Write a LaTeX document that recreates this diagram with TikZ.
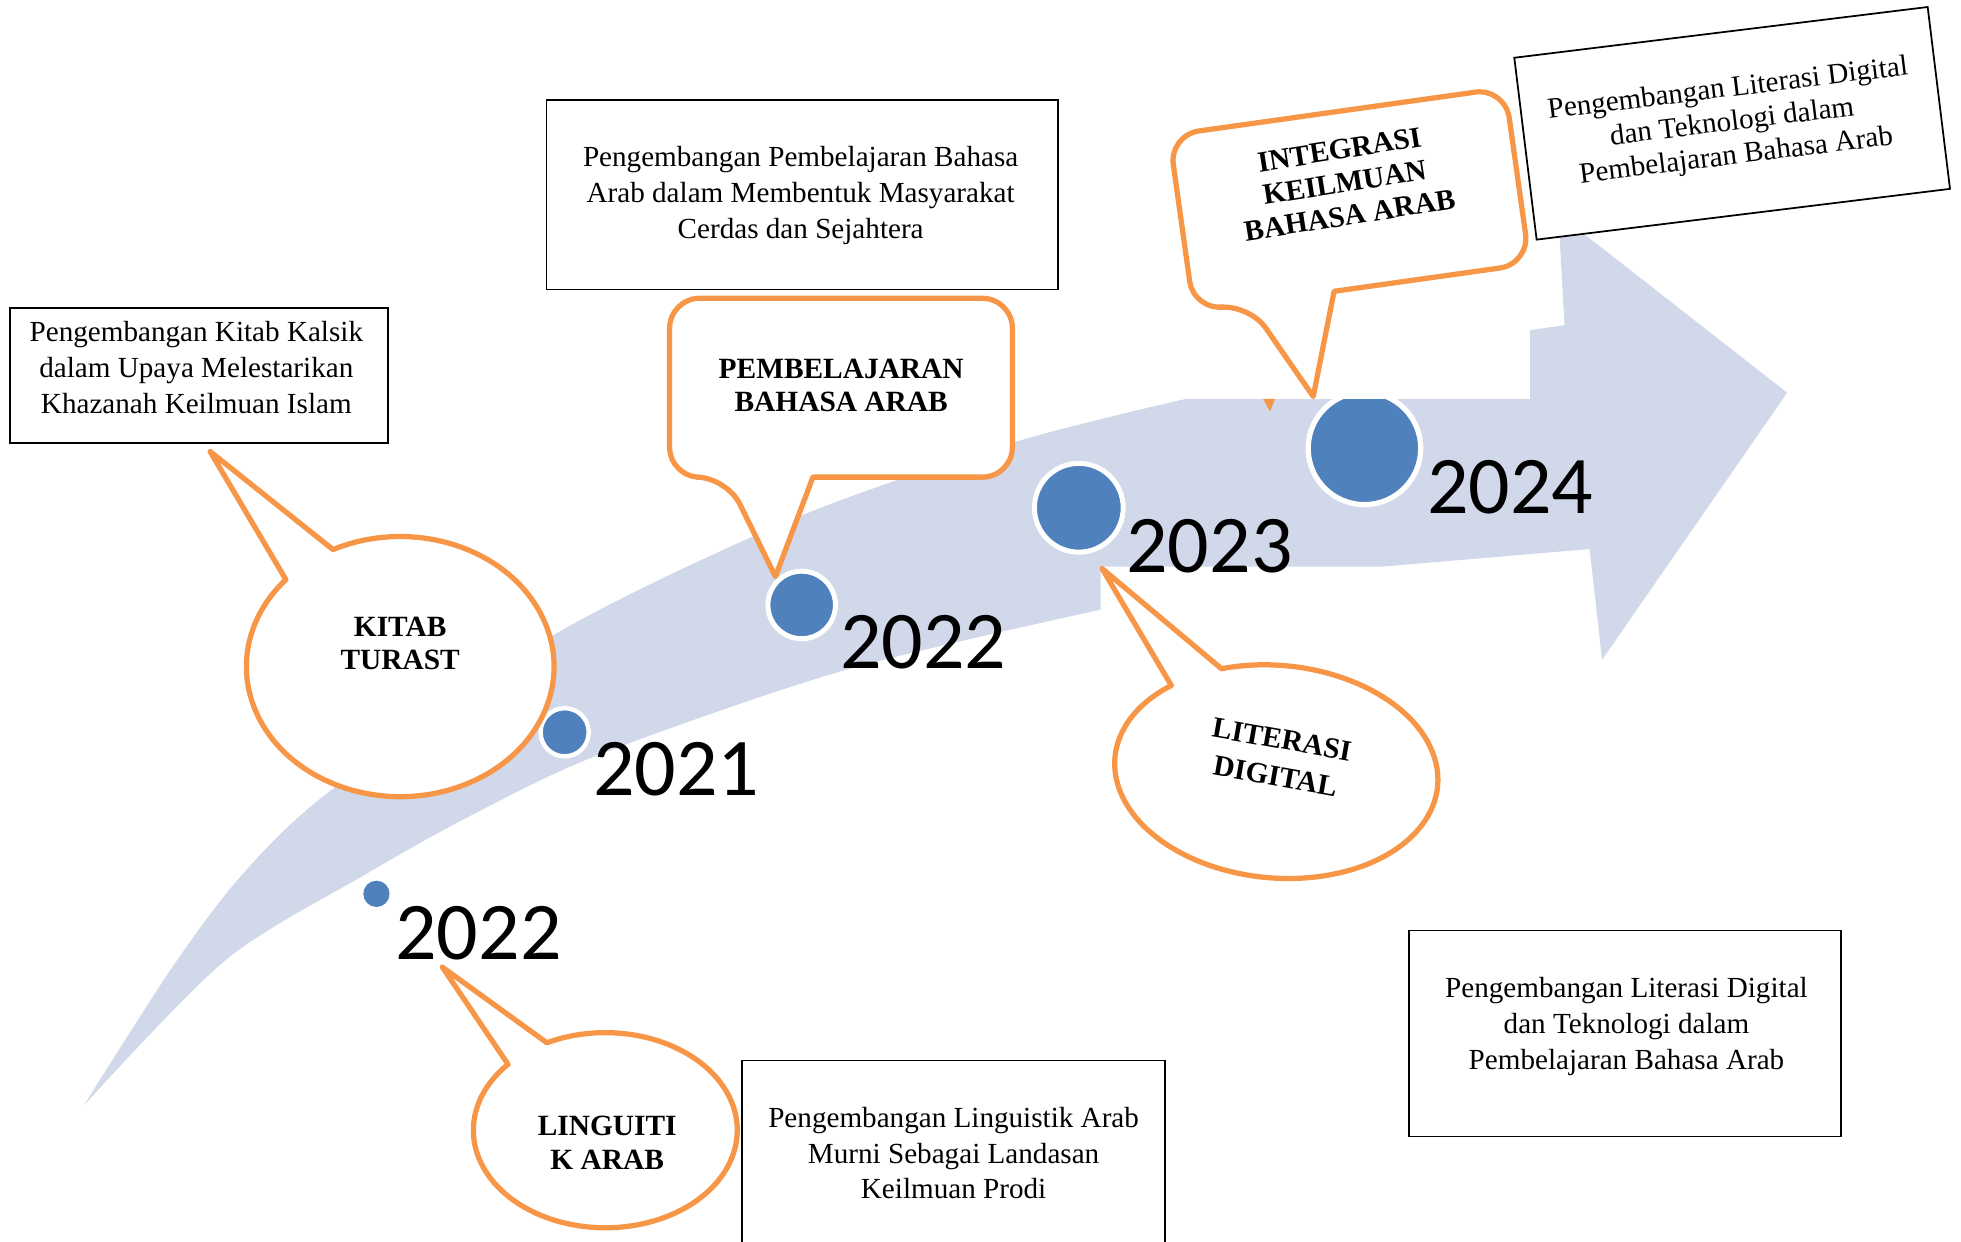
\documentclass[tikz,border=0pt]{standalone}
\usepackage{fontspec}
\setmainfont{Liberation Serif}
\newfontfamily\YearFont{Carlito}
\usepackage{tikz}
\usepackage{xcolor}
\definecolor{ColA}{RGB}{247,150,70}
\definecolor{ColB}{RGB}{79,129,189}
\definecolor{ColC}{RGB}{208,216,233}
\tikzstyle{Bubble}=[draw=ColA,fill=white,line width=4.2pt,line join=round]
\tikzstyle{BubbleText}=[align=center,inner sep=0pt,font=\fontsize{23.5}{26.5}\selectfont\bfseries]
\tikzstyle{InfoBox}=[draw=black,fill=white,line width=1.4pt,inner sep=0pt]
\tikzstyle{InfoText}=[align=center,inner sep=0pt,font=\fontsize{23.3}{28.7}\selectfont]
\tikzstyle{YearDot}=[circle,draw=white,fill=ColB,line width=4pt,inner sep=0pt]
\tikzstyle{YearText}=[anchor=base west,inner sep=0pt,font=\YearFont\fontsize{65.5}{65.5}\selectfont]

\begin{document}
\begin{tikzpicture}[x=1pt,y=-1pt]
\useasboundingbox (0,0) rectangle (1568,993);
\clip (0,0) rectangle (1568,993);
\fill[ColC] plot[smooth] coordinates {(67,884) (180,768) (292.5,699) (376.7,652) (480,603) (675,536) (880,487.5)}
  -- (880,453) -- (1106,453) -- (1271,439) -- (1281,527.5) -- (1429,314) -- (1246,171) -- (1251,260)
  -- (1223.5,264) -- (1223.5,319)
  -- plot[smooth] coordinates {(948,319) (813,353) (639,413) (444,507) (264.5,632) (194,699) (138,773) (67,884)} -- cycle;
\node[YearDot,minimum size=38.5,line width=3.5pt](d1)at(451.5,585.5){};
\node[YearDot,minimum size=54](d2)at(641,483.7){};
\node[YearDot,minimum size=71](d3)at(862.6,406){};
\node[YearDot,minimum size=90,line width=4.2pt](d4)at(1091,358.5){};
\node[YearDot,minimum size=21,draw=none](d0)at(301,714.7){};
\fill[white] (948,240) rectangle (1223.5,319);
\fill[ColA] (1010,319) -- (1019.5,319) -- (1015.5,329) -- cycle;
\node[YearText](y1)at(474,636){2021};
\node[YearText](y2)at(671.5,534.7){2022};
\node[YearText](y3)at(900.5,458){2023};
\node[YearText](y4)at(1141,410.7){2024};
\node[YearText](y0)at(316,767.5){2022};
\node[InfoBox,minimum width=302,minimum height=108](b1)at(159,300){};
\node[InfoText](t1)at(157,294){Pengembangan Kitab Kalsik\\dalam Upaya Melestarikan\\Khazanah Keilmuan Islam};
\node[InfoBox,minimum width=409,minimum height=151.5](b2)at(641.5,155.8){};
\node[InfoText](t2)at(640.2,156.5){Pengembangan Pembelajaran Bahasa\\Arab dalam Membentuk Masyarakat\\Cerdas dan Sejahtera};
\node[InfoBox,minimum width=338.4,minimum height=162](b3)at(762.2,929){};
\node[InfoText](t3)at(762.5,922){Pengembangan Linguistik Arab\\Murni Sebagai Landasan\\Keilmuan Prodi};
\node[InfoBox,minimum width=345.3,minimum height=164.8](b4)at(1299.4,826.4){};
\node[InfoText](t4)at(1300.5,821){Pengembangan Literasi Digital\\dan Teknologi dalam\\Pembelajaran Bahasa Arab};
\node[InfoBox,InfoText,minimum width=333,minimum height=146.5,rotate=7,font=\fontsize{23.3}{27}\selectfont](b5)at(1385,98.6){Pengembangan Literasi Digital\\dan Teknologi dalam\\Pembelajaran Bahasa Arab};
\draw[Bubble] (320,533) ++(-115.9:123 and 104) arc[start angle=-115.9,end angle=222,x radius=123,y radius=104] -- (168,361) -- cycle;
\draw[Bubble] (484,903.7) ++(-116.3:105.5 and 78) arc[start angle=-116.3,end angle=222.5,x radius=105.5,y radius=78] -- (353.7,773.3) -- cycle;
\begin{scope}[shift={(1020.5,617)},rotate=-5]
  \draw[Bubble] (-113.1:129.5 and 85) arc[start angle=-113.1,end angle=226.2,x radius=129.5,y radius=85] -- (-152.9,-149.6) -- cycle;
\end{scope}
\draw[Bubble] (650,381.5) [rounded corners=24] -- (809.5,381.5) -- (809.5,238.5) -- (535.4,238.5) -- (535.4,381.5) -- (581,381.5) [sharp corners] -- (620,461) -- cycle;
\begin{scope}[shift={(1079,159.5)},rotate=8]
  \draw[Bubble] (-22.4,71) [rounded corners=24] -- (135.6,71) -- (135.6,-71) -- (-135.6,-71) -- (-135.6,71) -- (-91.4,71) [sharp corners] -- (-50.6,152) -- cycle;
  \node[BubbleText,rotate=9](integ)at(-2,-14){INTEGRASI\\KEILMUAN\\BAHASA ARAB};
\end{scope}
\node[BubbleText](kitab)at(320,514.7){KITAB\\TURAST};
\node[BubbleText](pemb)at(672.6,308){PEMBELAJARAN\\BAHASA ARAB};
\node[BubbleText,rotate=-10,font=\fontsize{23.5}{30}\selectfont\bfseries](lit)at(1022.4,606){LITERASI\\DIGITAL};
\node[BubbleText](ling)at(485.5,913.8){LINGUITI\\K ARAB};
\end{tikzpicture}
\end{document}
